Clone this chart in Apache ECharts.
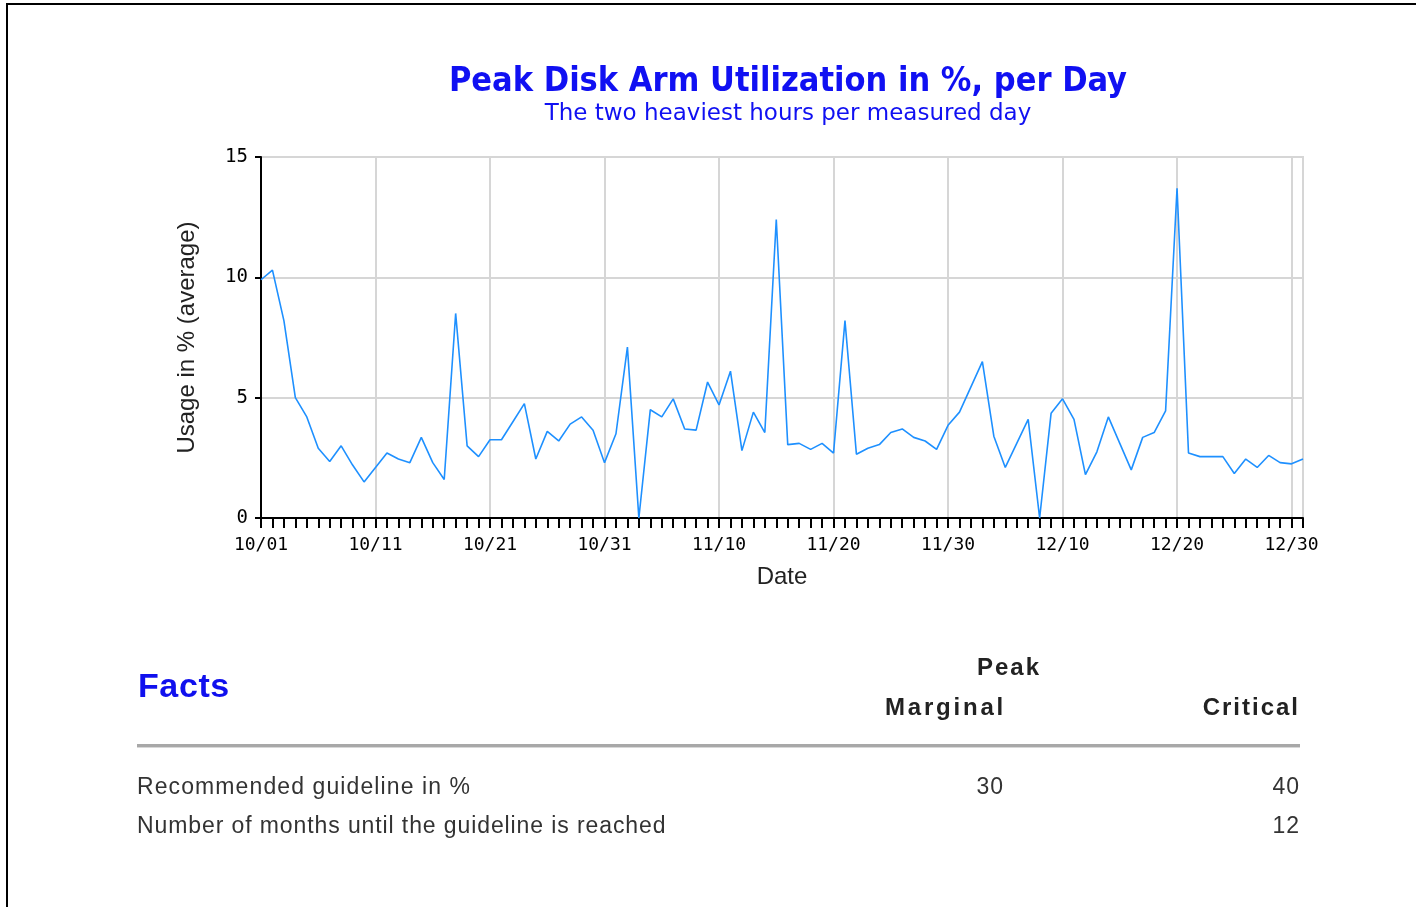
<!DOCTYPE html>
<html>
<head>
<meta charset="utf-8">
<script src="https://cdn.jsdelivr.net/npm/echarts@6/dist/echarts.min.js"></script>
<style>
  html, body { margin: 0; padding: 0; background: #fff; width: 1416px; height: 907px; overflow: hidden; }
  #frame { position: absolute; left: 6px; top: 3px; width: 1500px; height: 1000px; border-top: 2px solid #000; border-left: 2px solid #000; }
  #chart { position: absolute; left: 0; top: 0; width: 1416px; height: 907px; }
  .t { position: absolute; font-family: "Liberation Sans", Arial, sans-serif; color: #222; white-space: nowrap; }
  .facts { left: 138px; top: 666px; font-size: 34px; font-weight: bold; color: #1010ee; letter-spacing: 0.6px; }
  .hd { font-size: 24px; font-weight: bold; letter-spacing: 2px; }
  .row { font-size: 23px; letter-spacing: 0.9px; color: #333; }
  #rule { position: absolute; left: 137px; top: 744px; width: 1163px; height: 3px; background: #a8a8a8; border-bottom: 1px solid #d8d8d8; }
</style>
</head>
<body>
<div id="frame"></div>
<div id="chart"></div>
<div class="t facts">Facts</div>
<div class="t hd" style="left:977px; top:653px;">Peak</div>
<div class="t hd" style="left:885px; top:693px; letter-spacing:2.8px;">Marginal</div>
<div class="t hd" style="right:116px; top:693px;">Critical</div>
<div id="rule"></div>
<div class="t row" style="left:137px; top:773px; letter-spacing:1.1px;">Recommended guideline in %</div>
<div class="t row" style="right:412px; top:773px;">30</div>
<div class="t row" style="right:116px; top:773px;">40</div>
<div class="t row" style="left:137px; top:812px;">Number of months until the guideline is reached</div>
<div class="t row" style="right:116px; top:812px;">12</div>
<script>
const titleText = 'Peak Disk Arm Utilization in %, per Day';
const subtitleText = 'The two heaviest hours per measured day';
const yAxisName = 'Usage in % (average)';
const xAxisName = 'Date';
const months = [['10', 31], ['11', 30], ['12', 31]];
const yTicks = [0, 5, 10, 15];
const usage = [
  9.9, 10.3, 8.2, 5.0, 4.2, 2.9, 2.35, 3.0, 2.2, 1.5,
  2.1, 2.7, 2.45, 2.3, 3.35, 2.3, 1.6, 8.5, 3.0, 2.55,
  3.25, 3.25, 4.0, 4.75, 2.45, 3.6, 3.2, 3.9, 4.2, 3.65,
  2.3, 3.5, 7.1, 0, 4.5, 4.2, 4.95, 3.7, 3.65, 5.65,
  4.7, 6.1, 2.8, 4.4, 3.55, 12.4, 3.05, 3.1, 2.85, 3.1,
  2.7, 8.2, 2.65, 2.9, 3.05, 3.55, 3.7, 3.35, 3.2, 2.85,
  3.85, 4.4, 5.45, 6.5, 3.4, 2.1, 3.1, 4.1, 0, 4.35,
  4.95, 4.1, 1.8, 2.75, 4.2, 3.1, 2.0, 3.35, 3.55, 4.45,
  13.7, 2.7, 2.55, 2.55, 2.55, 1.85, 2.45, 2.1, 2.6, 2.3,
  2.25, 2.45
];
const dates = [];
months.forEach(([m, n]) => { for (let d = 1; d <= n; d++) dates.push(m + '/' + String(d).padStart(2, '0')); });

const chart = echarts.init(document.getElementById('chart'), null, { renderer: 'canvas' });
chart.setOption({
  animation: false,
  title: {
    text: titleText,
    subtext: subtitleText,
    left: 783,
    top: 60,
    textAlign: 'center',
    itemGap: 4,
    textStyle: { fontFamily: '"DejaVu Sans Condensed", "DejaVu Sans", sans-serif', fontWeight: 'bold', fontSize: 34, color: '#1010f2' },
    subtextStyle: { fontFamily: '"DejaVu Sans", sans-serif', fontSize: 23, color: '#1010f2' }
  },
  grid: { left: 261, right: 113, top: 157, bottom: 389, show: true, borderColor: '#d6d6d6', borderWidth: 2 },
  xAxis: {
    type: 'category',
    data: dates,
    boundaryGap: false,
    name: xAxisName,
    nameLocation: 'middle',
    nameGap: 47,
    nameTextStyle: { fontFamily: '"Liberation Sans", Arial, sans-serif', fontSize: 24, color: '#222' },
    axisLine: { lineStyle: { color: '#000', width: 2 } },
    axisTick: { show: true, interval: 0, length: 10, lineStyle: { color: '#000', width: 2 } },
    axisLabel: { interval: 9, margin: 18, color: '#000', fontFamily: '"DejaVu Sans Mono", monospace', fontSize: 18 },
    splitLine: { show: true, interval: 9, lineStyle: { color: '#d6d6d6', width: 2 } }
  },
  yAxis: {
    type: 'value',
    min: 0,
    max: 15,
    interval: 5,
    name: yAxisName,
    nameLocation: 'middle',
    nameGap: 62,
    nameRotate: 90,
    nameTextStyle: { fontFamily: '"Liberation Sans", Arial, sans-serif', fontSize: 24, color: '#222' },
    axisLine: { show: true, lineStyle: { color: '#000', width: 2 } },
    axisTick: { show: true, length: 6, lineStyle: { color: '#000', width: 2 } },
    axisLabel: { margin: 13, color: '#000', fontFamily: '"DejaVu Sans Mono", monospace', fontSize: 19,
      formatter: v => yTicks.includes(v) ? String(v) : '' },
    splitLine: { show: true, lineStyle: { color: '#d6d6d6', width: 2 } }
  },
  series: [{
    type: 'line',
    data: usage,
    showSymbol: false,
    symbol: 'none',
    lineStyle: { color: '#1e90ff', width: 1.6 },
    itemStyle: { color: '#1e90ff' }
  }]
});
</script>
</body>
</html>
